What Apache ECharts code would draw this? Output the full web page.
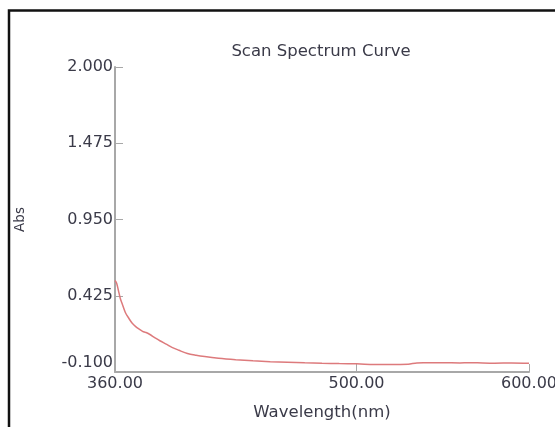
<!DOCTYPE html>
<html>
<head>
<meta charset="utf-8">
<script src="https://cdn.jsdelivr.net/npm/echarts@6/dist/echarts.min.js"></script>
<style>
html,body{margin:0;padding:0;background:#fff;}
#c{width:555px;height:427px;}
</style>
</head>
<body>
<div id="c"></div>
<script>
var titleText = 'Scan Spectrum Curve';
var xName = 'Wavelength(nm)';
var yName = 'Abs';
var xTicks = [360, 500, 600];
var yTicks = [-0.1, 0.425, 0.95, 1.475, 2.0];
var wavelength = [360, 361, 362, 363, 364, 366, 368, 370, 372, 374, 376, 377, 378, 380, 383, 386, 390, 393, 397, 402, 407, 412, 420, 430, 440, 450, 460, 470, 480, 490, 500, 510, 520, 530, 535, 540, 550, 560, 565, 570, 580, 590, 600];
var absorbance = [0.53, 0.51, 0.46, 0.41, 0.375, 0.31, 0.27, 0.235, 0.212, 0.195, 0.18, 0.175, 0.172, 0.16, 0.137, 0.115, 0.09, 0.07, 0.05, 0.027, 0.015, 0.006, -0.005, -0.015, -0.023, -0.029, -0.033, -0.037, -0.040, -0.042, -0.044, -0.048, -0.049, -0.046, -0.038, -0.037, -0.036, -0.038, -0.036, -0.037, -0.039, -0.038, -0.040];

var pts = wavelength.map(function (w, i) { return [w, absorbance[i]]; });
var font = 'DejaVu Sans';
var txt = '#3a3a48';

var chart = echarts.init(document.getElementById('c'), null, {renderer: 'canvas'});
chart.setOption({
  backgroundColor: '#ffffff',
  animation: false,
  title: {
    text: titleText, left: 316, top: 38, textAlign: 'center',
    textStyle: {fontFamily: font, fontSize: 16.5, fontWeight: 'normal', color: txt}
  },
  grid: {left: 115, right: 26, top: 67, bottom: 55, containLabel: false, outerBoundsMode: 'none'},
  xAxis: {
    type: 'value', min: 360, max: 600,
    name: xName, nameLocation: 'middle', nameGap: 32,
    nameTextStyle: {fontFamily: font, fontSize: 16.5, color: txt},
    axisLine: {show: true, onZero: false, lineStyle: {color: '#a8a8a8', width: 2}},
    axisTick: {show: true, inside: true, length: 8, customValues: xTicks, lineStyle: {color: '#a8a8a8', width: 1}},
    axisLabel: {customValues: xTicks, margin: 4, fontFamily: font, fontSize: 16, color: txt,
      formatter: function (v) { return v.toFixed(2); }},
    splitLine: {show: false}
  },
  yAxis: {
    type: 'value', min: -0.1, max: 2.0,
    name: yName, nameLocation: 'middle', nameGap: 88, nameRotate: 90,
    nameTextStyle: {fontFamily: font, fontSize: 13.5, color: txt},
    axisLine: {show: true, onZero: false, lineStyle: {color: '#a8a8a8', width: 2}},
    axisTick: {show: true, inside: true, length: 8, customValues: yTicks, lineStyle: {color: '#a8a8a8', width: 1}},
    axisLabel: {customValues: yTicks, margin: 2, fontFamily: font, fontSize: 16, color: txt,
      formatter: function (v) { return Math.abs(v - yTicks[0]) < 1e-9 ? '{low|' + v.toFixed(3) + '}' : v.toFixed(3); },
      rich: {low: {fontFamily: font, fontSize: 16, color: txt, padding: [0, 0, 18, 0]}}},
    splitLine: {show: false}
  },
  series: [{
    type: 'line', data: pts, showSymbol: false, smooth: 0.3,
    lineStyle: {color: '#dd7a7c', width: 1.5}
  }],
  graphic: [{
    type: 'rect', silent: true,
    shape: {x: 9, y: 10.5, width: 700, height: 600},
    style: {fill: null, stroke: '#111111', lineWidth: 2.5}
  }]
});
</script>
</body>
</html>
